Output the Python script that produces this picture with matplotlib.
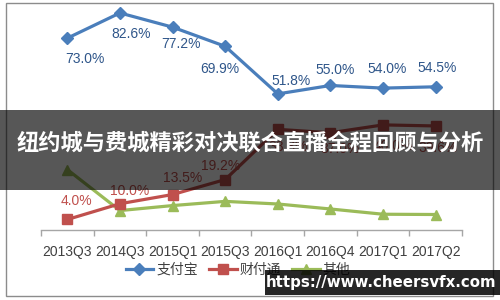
import matplotlib
matplotlib.use('Agg')
import matplotlib.pyplot as plt
from matplotlib.patches import Rectangle

# data
quarters = ['2013Q3', '2014Q3', '2015Q1', '2015Q3', '2016Q1', '2016Q4', '2017Q1', '2017Q2']
alipay = [73.0, 82.6, 77.2, 69.9, 51.8, 55.0, 54.0, 54.5]
tenpay = [4.0, 10.0, 13.5, 19.2, 38.3, 37.0, 40.0, 39.6]
others = [23.0, 7.4, 9.3, 10.9, 9.9, 8.0, 6.0, 5.9]
series_names = ['支付宝', '财付通', '其他']
title_text = '纽约城与费城精彩对决联合直播全程回顾与分析'
watermark = 'https://www.cheersvfx.com'

# label offsets in pixels (x, y)
alipay_off = [(18, -21), (11, -21), (8, -17), (-5, -23), (13, 13), (5, 15), (4, 19), (1, 19)]
tenpay_off = [(9, 18), (10, 13), (10, 17), (-5, 14), (10, -18), (10, -16), (10, -21), (2, -22)]

narrow = ['Liberation Sans', 'DejaVu Sans']
cjk = ['Noto Sans CJK SC', 'DejaVu Sans']

blue, red, green = '#4a7ebb', '#c0504d', '#9bbb59'

fig = plt.figure(figsize=(5, 3), dpi=100)
ax = fig.add_axes([0.082, 0.2333, 0.842, 0.7533])
x = list(range(len(quarters)))

ax.plot(x, alipay, color=blue, lw=2.3, marker='D', ms=6.5, label=series_names[0], zorder=3)
ax.plot(x, tenpay, color=red, lw=2.3, marker='s', ms=7, label=series_names[1], zorder=3)
ax.plot(x, others, color=green, lw=2.3, marker='^', ms=7.5, label=series_names[2], zorder=2)

for i, v in enumerate(alipay):
    ax.annotate('%.1f%%' % v, (i, v), xytext=alipay_off[i], textcoords='offset pixels',
                ha='center', va='center', color='#2f568a', fontsize=10, family=narrow)
for i, v in enumerate(tenpay):
    ax.annotate('%.1f%%' % v, (i, v), xytext=tenpay_off[i], textcoords='offset pixels',
                ha='center', va='center', color=red, fontsize=10, family=narrow)

ax.set_xlim(-0.5, len(quarters) - 0.5)
ax.set_ylim(0, 86)
ax.set_yticks([])
for s in ['left', 'right', 'top']:
    ax.spines[s].set_visible(False)
ax.spines['bottom'].set_color('#a6a6a6')
ax.spines['bottom'].set_linewidth(1)
ax.set_xticks(x)
ax.set_xticklabels(quarters, family=narrow, fontsize=10, color='#404040')
ax.set_xticks([i - 0.5 for i in range(len(quarters) + 1)], minor=True)
ax.tick_params(axis='x', which='major', length=0, pad=11)
ax.tick_params(axis='x', which='minor', length=4, color='#a6a6a6', width=1)
ax.patch.set_alpha(0)

leg = fig.legend(loc='center', bbox_to_anchor=(0.476, 0.1), ncol=3, frameon=False,
                 prop={'family': cjk, 'size': 10}, handlelength=2.0,
                 handletextpad=0.2, columnspacing=0.8)
for t in leg.get_texts():
    t.set_color('#404040')

# outer chart frame
fig.patches.append(Rectangle((0.012, 0.0133), 0.974, 0.977, transform=fig.transFigure,
                             fill=False, edgecolor='#8c8c8c', lw=1, zorder=1))

# dark banner with title
fig.patches.append(Rectangle((0, 0.3667), 1, 0.2667, transform=fig.transFigure,
                             facecolor='black', alpha=0.66, edgecolor='none', zorder=10))
fig.text(0.5, 0.523, title_text, color='white', fontsize=16, fontweight='bold',
         family=cjk, ha='center', va='center', zorder=11)

# watermark
fig.patches.append(Rectangle((0.53, 0.0167), 0.47, 0.0833, transform=fig.transFigure,
                             facecolor='black', alpha=0.85, edgecolor='none', zorder=10))
fig.text(0.762, 0.06, watermark, color='white', fontsize=10.8, fontweight='bold',
         ha='center', va='center', zorder=11)

fig.savefig('out.png', dpi=100)
